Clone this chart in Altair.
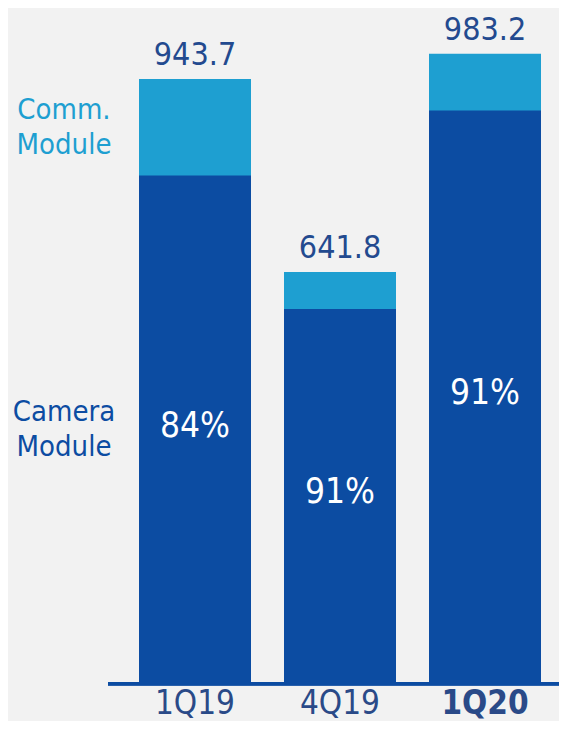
import altair as alt
import pandas as pd

periods = ["1Q19", "4Q19", "1Q20"]
totals = [943.7, 641.8, 983.2]
camera_pct = [84, 91, 91]
legend_names = ["Comm.\nModule", "Camera\nModule"]

FONT = "DejaVu Sans Condensed, Liberation Sans Narrow, sans-serif"
DARK = "#0c4ca2"
LIGHT = "#1e9fd1"
NAVY = "#234a8f"
BG = "#f2f2f2"

camera = [t * p / 100 for t, p in zip(totals, camera_pct)]
df = pd.DataFrame({
    "period": periods,
    "total": totals,
    "camera": camera,
    "pct_mid": [c / 2 for c in camera],
    "pct": [f"{p}%" for p in camera_pct],
    "total_label": [f"{t:.1f}" for t in totals],
})
legend_df = pd.DataFrame({
    "name": legend_names,
    "y": [(camera[0] + totals[0]) / 2, camera[0] / 2],
})

x = alt.X(
    "period:N",
    sort=periods,
    scale=alt.Scale(range=[131, 533], paddingInner=0.2276, paddingOuter=0),
    axis=alt.Axis(
        title=None, ticks=False, tickSize=0, domain=False, grid=False,
        labelFontSize=33, labelFont=FONT, labelColor="#2a4a88",
        labelPadding=5, labelAngle=0,
        labelFontWeight={"condition": {"test": "datum.value == '1Q20'", "value": 700}, "value": 400},
    ),
)
yscale = alt.Scale(domain=[0, 1055])

base = alt.Chart(df)
light = base.mark_bar(color=LIGHT).encode(x=x, y=alt.Y("total:Q", scale=yscale, axis=None))
dark = base.mark_bar(color=DARK).encode(x=x, y=alt.Y("camera:Q", scale=yscale, axis=None))
tot_text = base.mark_text(dy=-14, baseline="alphabetic", fontSize=32, font=FONT, color=NAVY).encode(
    x=x, y=alt.Y("total:Q", scale=yscale, axis=None), text="total_label:N")
pct_text = base.mark_text(dy=-3, baseline="middle", fontSize=35, font=FONT, color="white").encode(
    x=x, y=alt.Y("pct_mid:Q", scale=yscale, axis=None), text="pct:N")

legend_text = alt.Chart(legend_df).mark_text(
    lineBreak="\n", lineHeight=35, fontSize=29, font=FONT, align="center", baseline="middle", dy=-17
).encode(
    x=alt.value(56),
    y=alt.Y("y:Q", scale=yscale, axis=None),
    text="name:N",
    color=alt.Color("name:N", scale=alt.Scale(domain=legend_names, range=[LIGHT, DARK]), legend=None),
)

baseline = alt.Chart(df).mark_rule(color=DARK, strokeWidth=3.5).encode(
    x=alt.value(100), x2=alt.value(551), y=alt.value(675.75))

chart = alt.layer(light, dark, baseline, tot_text, pct_text, legend_text).properties(
    width=551, height=674,
    autosize=alt.AutoSizeParams(type="none"),
    padding={"left": 0, "top": 0, "right": 0, "bottom": 39},
    background=BG,
).configure_view(stroke=None)

chart.save("out.html", embed_options={"renderer": "svg", "actions": False})
